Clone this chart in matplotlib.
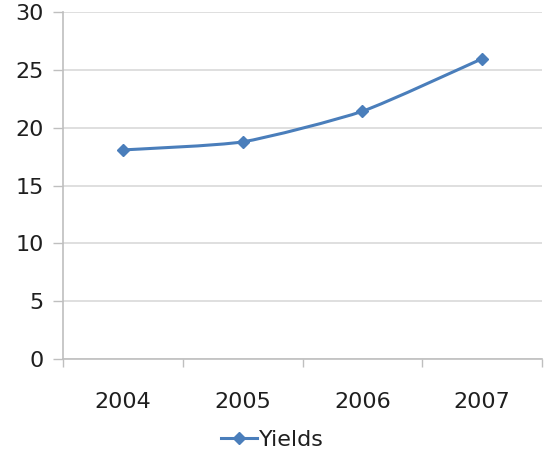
import numpy as np
import matplotlib
matplotlib.use("Agg")
import matplotlib.pyplot as plt
from matplotlib.path import Path
from matplotlib.patches import PathPatch

years = ['2004', '2005', '2006', '2007']
yields = [18.1, 18.8, 21.45, 26.0]

blue = '#4A7EBB'
grid_c = '#D9D9D9'
axis_c = '#BFBFBF'
txt_c = '#1F1F1F'

plt.rcParams['font.family'] = 'DejaVu Sans'

fig = plt.figure(figsize=(5.45, 4.61), dpi=100)
ax = fig.add_axes([0.1156, 0.2213, 0.879, 0.7516])

x = np.arange(len(years))
y = np.array(yields)

# gently smoothed line (catmull-rom style bezier with low tension)
k = 1 / 10
verts = [(x[0], y[0])]
codes = [Path.MOVETO]
px = np.concatenate([[x[0]], x, [x[-1]]])
py = np.concatenate([[y[0]], y, [y[-1]]])
for i in range(1, len(px) - 2):
    c1 = (px[i] + (px[i + 1] - px[i - 1]) * k, py[i] + (py[i + 1] - py[i - 1]) * k)
    c2 = (px[i + 1] - (px[i + 2] - px[i]) * k, py[i + 1] - (py[i + 2] - py[i]) * k)
    verts += [c1, c2, (px[i + 1], py[i + 1])]
    codes += [Path.CURVE4] * 3
ax.add_patch(PathPatch(Path(verts, codes), fill=False, edgecolor=blue, lw=2.2,
                       capstyle='round', joinstyle='round', zorder=3))
ax.plot(x, y, ls='none', marker='D', ms=6, color=blue, zorder=4)
# legend proxy
ax.plot([], [], color=blue, lw=2.2, marker='D', ms=6, label='Yields')

ax.set_xlim(-0.5, len(years) - 0.5)
ax.set_ylim(0, 30)
ax.set_yticks(np.arange(0, 31, 5))
ax.yaxis.grid(True, color=grid_c, lw=1.2)
ax.set_axisbelow(True)

# tick marks on category boundaries, labels at category centres
ax.set_xticks(np.arange(-0.5, len(years), 1))
ax.set_xticklabels([])
ax.set_xticks(x, minor=True)
ax.set_xticklabels(years, minor=True)
ax.tick_params(axis='x', which='major', length=6, color=axis_c, width=1)
ax.tick_params(axis='x', which='minor', length=0, pad=24, labelsize=16, labelcolor=txt_c)
ax.tick_params(axis='y', length=7, color=axis_c, width=1, pad=7, labelsize=16, labelcolor=txt_c)

for s in ['top', 'right']:
    ax.spines[s].set_visible(False)
for s in ['left', 'bottom']:
    ax.spines[s].set_color(axis_c)
    ax.spines[s].set_linewidth(1.2)

fig.legend(loc='center', bbox_to_anchor=(0.5, 0.045), frameon=False, fontsize=16,
           handlelength=1.6, handletextpad=0.1, labelcolor=txt_c)

fig.savefig('out.png', dpi=100)
